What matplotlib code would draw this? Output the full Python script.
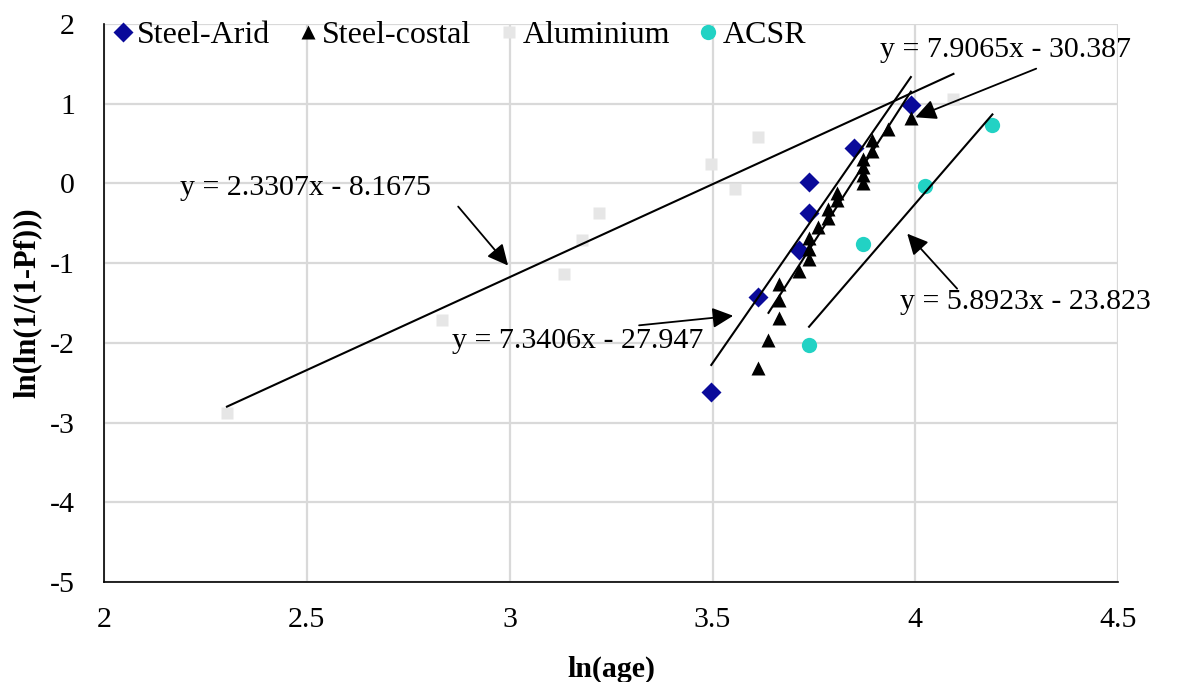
import numpy as np
import matplotlib.pyplot as plt

plt.rcParams['font.family'] = ['Liberation Serif', 'DejaVu Serif']
plt.rcParams['axes.unicode_minus'] = False

# data (x = ln(age), y = ln(ln(1/(1-Pf))))
arid_x = [3.497, 3.611, 3.714, 3.738, 3.738, 3.850, 3.989]
arid_y = [-2.62, -1.43, -0.83, -0.37, 0.02, 0.44, 0.98]

costal_x = [3.611, 3.638, 3.664, 3.664, 3.664, 3.714, 3.738, 3.738, 3.738,
            3.761, 3.784, 3.784, 3.807, 3.807, 3.871, 3.871, 3.871, 3.871,
            3.892, 3.892, 3.932, 3.989]
costal_y = [-2.32, -1.96, -1.69, -1.46, -1.26, -1.10, -0.95, -0.82, -0.69,
            -0.55, -0.43, -0.32, -0.21, -0.12, 0.00, 0.10, 0.20, 0.31,
            0.41, 0.55, 0.68, 0.82]

alu_x = [2.303, 2.833, 3.135, 3.178, 3.219, 3.497, 3.555, 3.611, 4.094]
alu_y = [-2.88, -1.71, -1.13, -0.71, -0.37, 0.25, -0.07, 0.58, 1.06]

acsr_x = [3.738, 3.871, 4.025, 4.190]
acsr_y = [-2.03, -0.76, -0.03, 0.73]

# trendlines: slope, intercept, x range
fit_names = ['Aluminium', 'Steel-Arid', 'Steel-costal', 'ACSR']
fit_slope = [2.3307, 7.3406, 7.9065, 5.8923]
fit_icpt = [-8.1675, -27.947, -30.387, -23.823]
fit_xmin = [2.303, 3.497, 3.638, 3.738]
fit_xmax = [4.094, 3.989, 3.989, 4.190]

# label text positions and arrow start/end
lbl_xy = [(2.187, -0.06), (2.858, -1.98), (3.913, 1.68), (3.963, -1.49)]
arr_from = [(2.873, -0.29), (3.319, -1.78), (4.298, 1.44), (4.103, -1.32)]
arr_to = [(2.996, -1.03), (3.551, -1.66), (4.000, 0.83), (3.980, -0.63)]

FS = 21.5

fig = plt.figure(figsize=(11.77, 6.82), dpi=100)
ax = fig.add_axes([0.0884, 0.1466, 0.8616, 0.8182])

ax.plot(arid_x, arid_y, 'D', color='#0A0A9A', ms=10, mec='none', label='Steel-Arid', zorder=3)
ax.plot(costal_x, costal_y, '^', color='black', ms=10, mec='none', label='Steel-costal', zorder=3)
ax.plot(alu_x, alu_y, 's', color='#E6E6E6', ms=9, mec='none', label='Aluminium', zorder=3)
ax.plot(acsr_x, acsr_y, 'o', color='#22D2C4', ms=11, mec='none', label='ACSR', zorder=3)

for m, c, lo, hi in zip(fit_slope, fit_icpt, fit_xmin, fit_xmax):
    xx = np.array([lo, hi])
    ax.plot(xx, m * xx + c, color='black', lw=1.5, zorder=4)

for i in range(len(fit_slope)):
    txt = 'y = %sx - %s' % (f'{fit_slope[i]:g}', f'{-fit_icpt[i]:g}')
    ax.text(lbl_xy[i][0], lbl_xy[i][1], txt, fontsize=FS, ha='left', va='center',
            zorder=5)
    ax.annotate('', xy=arr_to[i], xytext=arr_from[i],
                arrowprops=dict(arrowstyle='-|>,head_length=0.45,head_width=0.22',
                                color='black', lw=1.3, mutation_scale=28,
                                shrinkA=0, shrinkB=0),
                zorder=5)

ax.set_xlim(2, 4.5)
ax.set_ylim(-5, 2)
ax.set_xticks([2, 2.5, 3, 3.5, 4, 4.5])
ax.set_xticklabels(['2', '2.5', '3', '3.5', '4', '4.5'])
ax.set_yticks(range(-5, 3))
ax.grid(True, color='#D9D9D9', lw=1.6)
ax.set_axisbelow(True)
for s in ['top', 'right']:
    ax.spines[s].set_visible(False)
for s in ['left', 'bottom']:
    ax.spines[s].set_color('black')
    ax.spines[s].set_linewidth(1.2)
    ax.spines[s].set_zorder(2.5)
ax.tick_params(axis='x', length=0, pad=18, labelsize=FS)
ax.tick_params(axis='y', length=0, pad=21, labelsize=FS)

ax.set_xlabel('ln(age)', fontsize=FS, fontweight='bold', labelpad=16)
ax.set_ylabel('ln(ln(1/(1-Pf)))', fontsize=22, fontweight='bold', labelpad=6)

ax.legend(loc='center left', bbox_to_anchor=(0.0084, 0.98), ncol=4, frameon=False,
          fontsize=23, handletextpad=0.12, columnspacing=0.85, borderaxespad=0,
          borderpad=0, handlelength=0.65)

fig.savefig('out.png', dpi=100)
